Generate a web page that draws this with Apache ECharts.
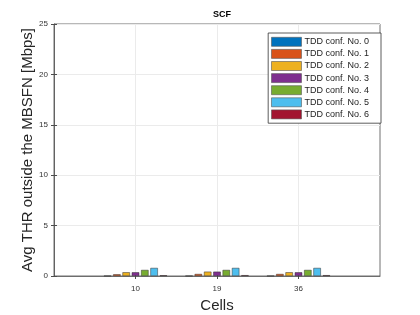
<!DOCTYPE html>
<html><head><meta charset="utf-8">
<script src="https://cdn.jsdelivr.net/npm/echarts@6/dist/echarts.min.js"></script>
<style>html,body{margin:0;padding:0;background:#fff}#c{width:420px;height:315px}</style>
</head><body><div id="c"></div>
<script>
const cells = ['10', '19', '36'];
const seriesNames = ['TDD conf. No. 0','TDD conf. No. 1','TDD conf. No. 2','TDD conf. No. 3','TDD conf. No. 4','TDD conf. No. 5','TDD conf. No. 6'];
const conf0 = [0.02, 0.02, 0.02];
const conf1 = [0.17, 0.2, 0.2];
const conf2 = [0.37, 0.43, 0.37];
const conf3 = [0.37, 0.43, 0.37];
const conf4 = [0.6, 0.6, 0.6];
const conf5 = [0.8, 0.8, 0.8];
const conf6 = [0.07, 0.08, 0.08];
const yTicks = [0, 5, 10, 15, 20, 25];
const colors = ['#0072BD','#D95319','#EDB120','#7E2F8E','#77AC30','#4DBEEE','#A2142F'];
const allData = [conf0, conf1, conf2, conf3, conf4, conf5, conf6];
const FONT = '"Liberation Sans", Arial, sans-serif';
const chart = echarts.init(document.getElementById('c'));
const axisColor = '#4d4d4d';
chart.setOption({
  animation: false,
  textStyle: {fontFamily: FONT},
  title: {text: 'SCF', left: 217, top: 5, textAlign: 'center',
    textStyle: {fontSize: 9, fontWeight: 'bold', color: '#000', fontFamily: FONT}},
  grid: {left: 54, right: 40, top: 24, bottom: 39, show: true, borderColor: axisColor, borderWidth: 0.8,
    containLabel: false, outerBoundsMode: 'none'},
  legend: {
    orient: 'vertical', right: 39, top: 33, itemWidth: 30, itemHeight: 9, itemGap: 2.5,
    backgroundColor: '#fff', borderColor: '#333', borderWidth: 0.8, padding: [4, 12, 4, 3],
    textStyle: {fontSize: 9, color: '#222', fontFamily: FONT, padding: [0,0,0,-2]},
    itemStyle: {borderColor: '#555', borderWidth: 0.6},
    icon: 'rect', data: seriesNames
  },
  xAxis: [{
    type: 'value', min: 0, max: 4, interval: 1,
    name: 'Cells', nameLocation: 'middle', nameGap: 22, nameMoveOverlap: false,
    nameTextStyle: {fontSize: 15, color: '#262626', fontFamily: FONT},
    axisLine: {show: true, lineStyle: {color: axisColor, width: 0.8}},
    axisTick: {show: true, inside: true, length: 3, customValues: [1,2,3], lineStyle: {color: axisColor}},
    axisLabel: {customValues: [1,2,3], fontSize: 8, color: '#333', margin: 9,
      formatter: v => cells[v - 1] || ''},
    splitLine: {show: true, lineStyle: {color: '#ebebeb', width: 1}}
  }, {
    type: 'value', min: 0, max: 4, interval: 1, position: 'top',
    axisLine: {show: false},
    axisTick: {show: true, inside: true, length: 3, customValues: [1,2,3], lineStyle: {color: axisColor}},
    axisLabel: {show: false}, splitLine: {show: false}
  }],
  yAxis: [{
    type: 'value', min: 0, max: 25, interval: 5,
    name: 'Avg THR outside the MBSFN [Mbps]', nameLocation: 'middle', nameGap: 19, nameMoveOverlap: false,
    nameTextStyle: {fontSize: 15, color: '#262626', fontFamily: FONT},
    axisLine: {show: true, lineStyle: {color: axisColor, width: 0.8}},
    axisTick: {show: true, inside: true, length: 3, lineStyle: {color: axisColor}},
    axisLabel: {fontSize: 8, color: '#333', margin: 6, formatter: v => yTicks.includes(v) ? String(v) : ''},
    splitLine: {show: true, lineStyle: {color: '#ebebeb', width: 1}}
  }, {
    type: 'value', min: 0, max: 25, interval: 5, position: 'right',
    axisLine: {show: false},
    axisTick: {show: true, inside: true, length: 3, lineStyle: {color: axisColor}},
    axisLabel: {show: false}, splitLine: {show: false}
  }],
  series: allData.map((d, i) => ({
    name: seriesNames[i], type: 'bar', xAxisIndex: 0, yAxisIndex: 0,
    data: d.map((v, j) => [j + 1, v]),
    barWidth: 7.45, barGap: '25%',
    itemStyle: {color: colors[i], borderColor: '#333', borderWidth: 0.5}
  }))
});
</script></body></html>
